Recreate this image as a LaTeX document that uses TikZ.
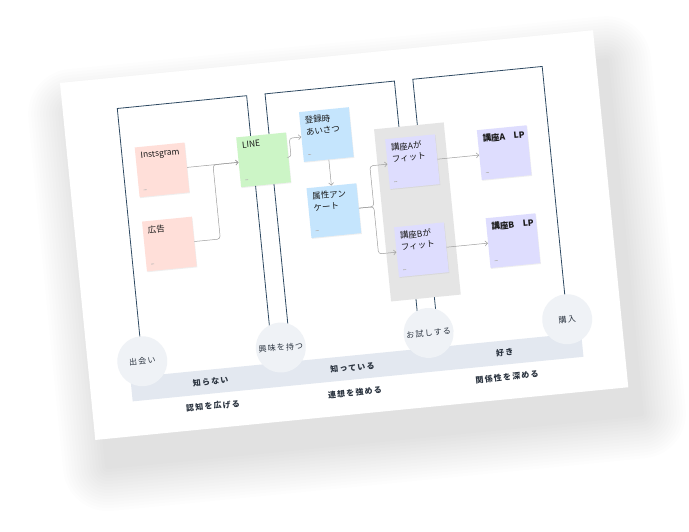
\documentclass[tikz,border=0pt]{standalone}
\usepackage{fontspec}
\setmainfont{Noto Sans CJK JP}
\newfontfamily\spacedjp[LetterSpace=15]{Noto Sans CJK JP}
\usetikzlibrary{arrows.meta,shadows}
\definecolor{framec}{HTML}{2F4A63}
\definecolor{flowc}{HTML}{9E9E9E}
\definecolor{pinkc}{HTML}{FFDFD9}
\definecolor{greenc}{HTML}{CCF5C6}
\definecolor{bluec}{HTML}{C5E5FD}
\definecolor{lilacc}{HTML}{DEDDFE}
\definecolor{trialc}{HTML}{E5E5E5}
\definecolor{stagec}{HTML}{EFF2F6}
\definecolor{bandc}{HTML}{E3E8F0}
\definecolor{labelc}{HTML}{2B3440}
\newcommand{\sticky}[4]{%
  \node[note,fill=#3] (#1) at (#2) {};
  \node[note text] (#1t) at ([shift={(5,5)}]#1.north west) {#4};
  \draw[sign] ([shift={(5,-7)}]#1.south west) -- ++(3,0);}
\tikzset{
  note/.style={minimum size=50pt,inner sep=0pt,drop shadow={opacity=0.12,shadow xshift=0.6pt,shadow yshift=-0.9pt}},
  note text/.style={anchor=north west,inner sep=0pt,align=left,font=\fontsize{8.5}{11.5}\selectfont,text=black!90},
  sign/.style={draw=black!30,line width=0.6pt},
  frame/.style={draw=framec,line width=0.8pt},
  flow/.style={draw=flowc,line width=0.5pt,rounded corners=3pt,-{Straight Barb[length=2.5pt,width=5pt]}},
  stage/.style={circle,fill=stagec,minimum size=50pt,inner sep=0pt,font=\spacedjp\fontsize{8}{10}\selectfont,text=labelc},
  band text/.style={font=\spacedjp\bfseries\fontsize{8}{10}\selectfont,text=labelc},
}

\begin{document}
\begin{tikzpicture}[x=1pt,y=-1pt]
\useasboundingbox (0,0) rectangle (689,531);
\begin{scope}[shift={(60,83)},rotate=5.65,transform shape]
  % card and its shadow
  \foreach \r in {3,6,...,45}
    \fill[black,opacity=0.009,rounded corners=\r pt] (10-\r,32-\r) rectangle (545.6+\r,386+\r);
  \fill[white] (0,0) rectangle (535.6,358.7);
  \fill[bandc] (41,300) rectangle (494,324);
  % stage columns
  \foreach \x in {54.5,203,351.5}
    \draw[frame] (\x,285) |- (\x+130,31) -- (\x+130,285);
  \node[fill=trialc,minimum width=70pt,minimum height=173pt,inner sep=0pt] (trial) at (343,163.5) {};
  % sticky notes
  \sticky{insta}{93,96.5}{pinkc}{Instsgram}
  \sticky{ad}{93,171}{pinkc}{広告}
  \sticky{lineapp}{195,96.5}{greenc}{LINE}
  \sticky{greet}{260,77.5}{bluec}{登録時\\あいさつ}
  \sticky{survey}{260,154}{bluec}{属性アン\\ケート}
  \sticky{fitA}{343,113}{lilacc}{講座Aが\\フィット}
  \sticky{fitB}{343.3,201.5}{lilacc}{講座Bが\\フィット}
  \sticky{lpA}{435.2,113}{lilacc}{\textbf{講座A　LP}}
  \sticky{lpB}{435.3,201.5}{lilacc}{\textbf{講座B　LP}}
  \draw[flow] (insta.east) -- (lineapp.west);
  \draw[flow] (ad.east) -- ++(26,0) |- (lineapp.west);
  \draw[flow] (lineapp.east) -- ++(2.5,0) |- (greet.west);
  \draw[flow] (greet.south) -- (survey.north);
  \draw[flow] (survey.east) -- ++(15,0) |- (fitA.west);
  \draw[flow] (survey.east) -- ++(15,0) |- (fitB.west);
  \draw[flow] (fitA.east) -- (lpA.west);
  \draw[flow] (fitB.east) -- (lpB.west);
  % stages
  \node[stage] (meet) at (54.5,285) {出会い};
  \node[stage] (interest) at (193.75,285) {興味を持つ};
  \node[stage] (tryout) at (342.25,285) {お試しする};
  \node[stage] (buy) at (481.5,285) {購入};
  % band labels
  \node[band text] (unknown) at (120.5,312) {知らない};
  \node[band text] (known) at (263,312) {知っている};
  \node[band text] (liked) at (416,312) {好き};
  \node[band text] (spread) at (120.5,336.5) {認知を広げる};
  \node[band text] (recall) at (263,337) {連想を強める};
  \node[band text] (deepen) at (416,336.5) {関係性を深める};
\end{scope}
\end{tikzpicture}
\end{document}
